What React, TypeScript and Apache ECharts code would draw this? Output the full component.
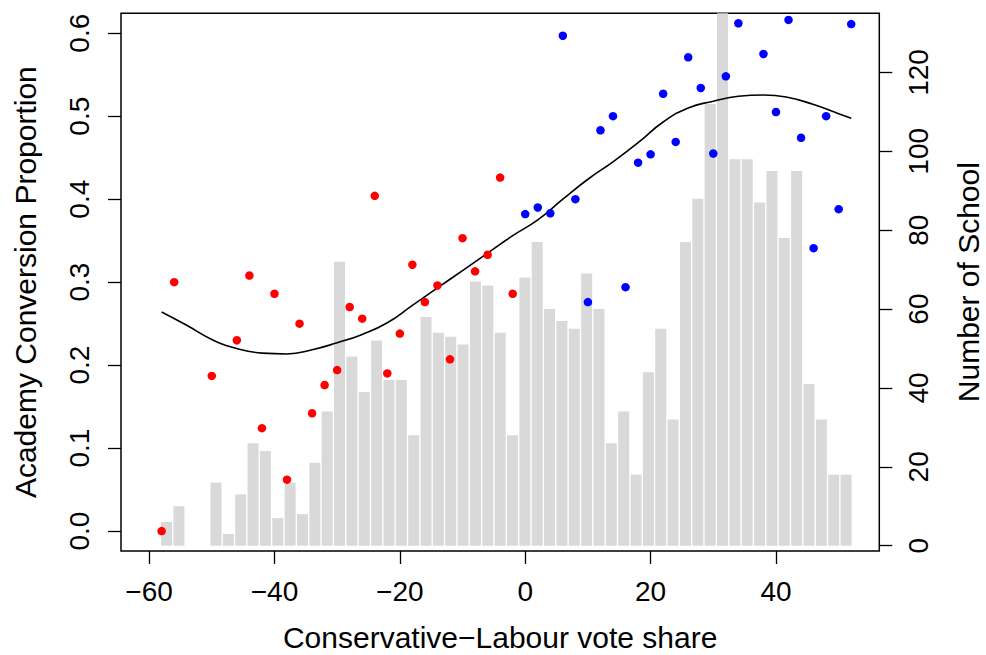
import React, { useEffect, useRef } from "react";
import * as echarts from "echarts";

// ---- data ----
const voteShareTicks = [-60, -40, -20, 0, 20, 40];
const proportionTicks = [0, 0.1, 0.2, 0.3, 0.4, 0.5, 0.6];
const schoolTicks = [0, 20, 40, 60, 80, 100, 120];

// Labour-leaning constituencies (red points)
const labourShare = [-58, -56, -50, -46, -44, -42, -40, -38, -36, -34, -32, -30, -28, -26, -24, -22, -20, -18, -16, -14, -12, -10, -8, -6, -4, -2];
const labourProp = [0.0, 0.3, 0.187, 0.23, 0.308, 0.124, 0.286, 0.062, 0.25, 0.142, 0.176, 0.194, 0.27, 0.256, 0.404, 0.19, 0.238, 0.321, 0.276, 0.296, 0.207, 0.353, 0.313, 0.333, 0.426, 0.286];

// Conservative-leaning constituencies (blue points)
const conShare = [0, 2, 4, 6, 8, 10, 12, 14, 16, 18, 20, 22, 24, 26, 28, 30, 32, 34, 38, 40, 42, 44, 46, 48, 50, 52];
const conProp = [0.382, 0.39, 0.383, 0.597, 0.4, 0.276, 0.483, 0.5, 0.294, 0.444, 0.454, 0.527, 0.469, 0.571, 0.534, 0.455, 0.548, 0.612, 0.575, 0.505, 0.616, 0.474, 0.341, 0.5, 0.388, 0.611];

// smooth fitted curve
const fitShare = [-58, -54, -50, -46, -42, -38, -34, -30, -26, -22, -18, -14, -10, -6, -2, 2, 6, 10, 14, 18, 22, 26, 30, 34, 38, 42, 46, 50, 52];
const fitProp = [0.264, 0.248, 0.231, 0.22, 0.2145, 0.2135, 0.2185, 0.227, 0.237, 0.251, 0.272, 0.293, 0.314, 0.335, 0.356, 0.375, 0.4, 0.424, 0.445, 0.468, 0.493, 0.51, 0.518, 0.524, 0.5256, 0.5225, 0.514, 0.503, 0.4975];

// number of schools per bin (bar heights, right axis)
const schoolCounts = [0, 6, 10, 0, 0, 16, 3, 13, 26, 24, 7, 16, 8, 21, 34, 72, 48, 39, 52, 42, 42, 28, 58, 54, 53, 51, 67, 66, 54, 28, 68, 77, 60, 57, 55, 69, 60, 26, 34, 18, 44, 55, 32, 77, 88, 112, 135, 98, 98, 87, 95, 78, 95, 41, 32, 18, 18];

const FONT = "'Liberation Sans', Arial, Helvetica, sans-serif";

function minusLabel(v: number): string {
  return v < 0 ? "\u2212" + Math.abs(v) : String(v);
}

export default function App() {
  const ref = useRef<HTMLDivElement>(null);

  useEffect(() => {
    if (!ref.current) return;
    const chart = echarts.init(ref.current, null, { renderer: "svg" });

    const nBars = schoolCounts.length;
    const barSpan = 1.2 * nBars - 0.2;
    const barAxisMin = 0.2 - 0.04 * barSpan;
    const barAxisMax = 1.2 * nBars + 0.04 * barSpan;
    const barMax = Math.max(...schoolCounts);

    const tickStyle = { color: "#000", width: 1.3 };
    const hiddenLine = { show: false, onZero: false };
    const titleStyle = { fontSize: 30, lineHeight: 22, color: "#000", fontFamily: FONT };

    chart.setOption({
      animation: false,
      backgroundColor: "#ffffff",
      grid: {
        left: 121,
        top: 13.3,
        right: 106.7,
        bottom: 104,
        containLabel: false,
        outerBoundsMode: "none",
        show: true,
        borderColor: "#000",
        borderWidth: 1.5,
        backgroundColor: "transparent",
      },
      xAxis: [
        {
          type: "value",
          min: -64.48,
          max: 56.48,
          position: "bottom",
          splitLine: { show: false },
          axisLine: hiddenLine,
          axisTick: { show: true, customValues: voteShareTicks, length: 13, lineStyle: tickStyle },
          axisLabel: {
            customValues: voteShareTicks,
            formatter: (v: number) => minusLabel(v),
            fontSize: 28,
            color: "#000",
            fontFamily: FONT,
            margin: 26,
          },
          name: "Conservative\u2212Labour vote share",
          nameLocation: "middle",
          nameGap: 75.5,
          nameTextStyle: titleStyle,
        },
        {
          type: "value",
          min: barAxisMin,
          max: barAxisMax,
          show: false,
          axisLine: hiddenLine,
        },
      ],
      yAxis: [
        {
          type: "value",
          min: -0.024,
          max: 0.624,
          position: "left",
          splitLine: { show: false },
          axisLine: hiddenLine,
          axisTick: { show: true, customValues: proportionTicks, length: 13, lineStyle: tickStyle },
          axisLabel: {
            customValues: proportionTicks,
            formatter: (v: number) => v.toFixed(1),
            rotate: 90,
            fontSize: 28,
            color: "#000",
            fontFamily: FONT,
            margin: 28,
          },
          name: "Academy Conversion Proportion",
          nameLocation: "middle",
          nameGap: 85,
          nameTextStyle: titleStyle,
        },
        {
          type: "value",
          min: -0.01 * barMax,
          max: barMax,
          position: "right",
          splitLine: { show: false },
          axisLine: hiddenLine,
          axisTick: { show: true, customValues: schoolTicks, length: 13, lineStyle: tickStyle },
          axisLabel: {
            customValues: schoolTicks,
            rotate: 90,
            fontSize: 28,
            color: "#000",
            fontFamily: FONT,
            margin: 25,
          },
          name: "Number of School",
          nameLocation: "middle",
          nameGap: 78,
          nameTextStyle: titleStyle,
        },
      ],
      series: [
        {
          type: "bar",
          xAxisIndex: 1,
          yAxisIndex: 1,
          data: schoolCounts.map((c, i) => [1.2 * (i + 1) - 0.5, c]),
          barWidth: 11,
          itemStyle: { color: "#d9d9d9", opacity: 1 },
          silent: true,
          z: 1,
        },
        {
          type: "line",
          xAxisIndex: 0,
          yAxisIndex: 0,
          data: fitShare.map((x, i) => [x, fitProp[i]]),
          smooth: true,
          showSymbol: false,
          symbol: "none",
          lineStyle: { color: "#000", width: 1.6 },
          silent: true,
          z: 3,
        },
        {
          type: "scatter",
          xAxisIndex: 0,
          yAxisIndex: 0,
          data: labourShare.map((x, i) => [x, labourProp[i]]),
          symbol: "circle",
          symbolSize: 8.5,
          itemStyle: { color: "#ff0000", opacity: 1 },
          silent: true,
          z: 4,
        },
        {
          type: "scatter",
          xAxisIndex: 0,
          yAxisIndex: 0,
          data: conShare.map((x, i) => [x, conProp[i]]),
          symbol: "circle",
          symbolSize: 8.5,
          itemStyle: { color: "#0000ff", opacity: 1 },
          silent: true,
          z: 4,
        },
      ],
    });

    return () => chart.dispose();
  }, []);

  return (
    <div
      ref={ref}
      style={{ position: "absolute", left: 0, top: 0, width: 986, height: 655, background: "#fff" }}
    />
  );
}
